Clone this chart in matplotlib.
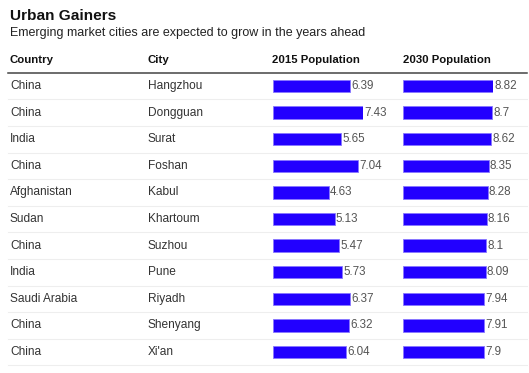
import numpy as np
import matplotlib
matplotlib.use("Agg")
import matplotlib.pyplot as plt

# Data
countries = ["China", "China", "India", "China", "Afghanistan", "Sudan",
             "China", "India", "Saudi Arabia", "China", "China"]
cities = ["Hangzhou", "Dongguan", "Surat", "Foshan", "Kabul", "Khartoum",
          "Suzhou", "Pune", "Riyadh", "Shenyang", "Xi'an"]
pop_2015 = [6.39, 7.43, 5.65, 7.04, 4.63, 5.13, 5.47, 5.73, 6.37, 6.32, 6.04]
pop_2030 = [8.82, 8.7, 8.62, 8.35, 8.28, 8.16, 8.1, 8.09, 7.94, 7.91, 7.9]
headers = ["Country", "City", "2015 Population", "2030 Population"]

W, H = 529, 373
plt.rcParams['font.family'] = ['Liberation Sans', 'DejaVu Sans']

fig = plt.figure(figsize=(W / 100, H / 100), dpi=100)

# background axes in pixel coords
bg = fig.add_axes([0, 0, 1, 1])
bg.set_xlim(0, W)
bg.set_ylim(H, 0)
bg.axis("off")

n = len(cities)
row_top = 72.7
row_h = 26.6
centers = row_top + row_h * (np.arange(n) + 0.5)

bg.text(10, 16, "Urban Gainers", fontsize=11.1, fontweight="bold",
        color="#111111", va="center", ha="left")
bg.text(10, 33, "Emerging market cities are expected to grow in the years ahead",
        fontsize=9.0, color="#222222", va="center", ha="left")

col_x = [10, 148, 272, 403]
for x, h in zip(col_x, headers):
    bg.text(x, 60, h, fontsize=8.2, fontweight="bold", color="#111111",
            va="center", ha="left")
bg.plot([8, 527], [row_top, row_top], color="#444444", lw=1.1)

for i in range(n):
    bg.text(col_x[0], centers[i], countries[i], fontsize=8.6, color="#333333",
            va="center", ha="left")
    bg.text(col_x[1], centers[i], cities[i], fontsize=8.6, color="#333333",
            va="center", ha="left")
    y_sep = row_top + row_h * (i + 1)
    bg.plot([8, 527], [y_sep, y_sep], color="#eeeeee", lw=0.8)

# bar columns
bar_w_px = 90.5
for x0, vals in [(272.5, pop_2015), (403, pop_2030)]:
    ax = fig.add_axes([x0 / W, 1 - (row_top + row_h * n) / H,
                       bar_w_px / W, row_h * n / H])
    ax.set_xlim(0, max(vals))
    ax.set_ylim(n, 0)
    ax.axis("off")
    ax.barh(np.arange(n) + 0.5, vals, height=0.47, color="#2200ff",
            edgecolor="#8877ff", linewidth=0.6)
    for i, v in enumerate(vals):
        ax.annotate(f"{v:g}", xy=(v, i + 0.5), xytext=(0.7, 0),
                    textcoords="offset points", va="center", ha="left",
                    fontsize=8.4, color="#555555", annotation_clip=False)

fig.savefig("out.png", dpi=100)
